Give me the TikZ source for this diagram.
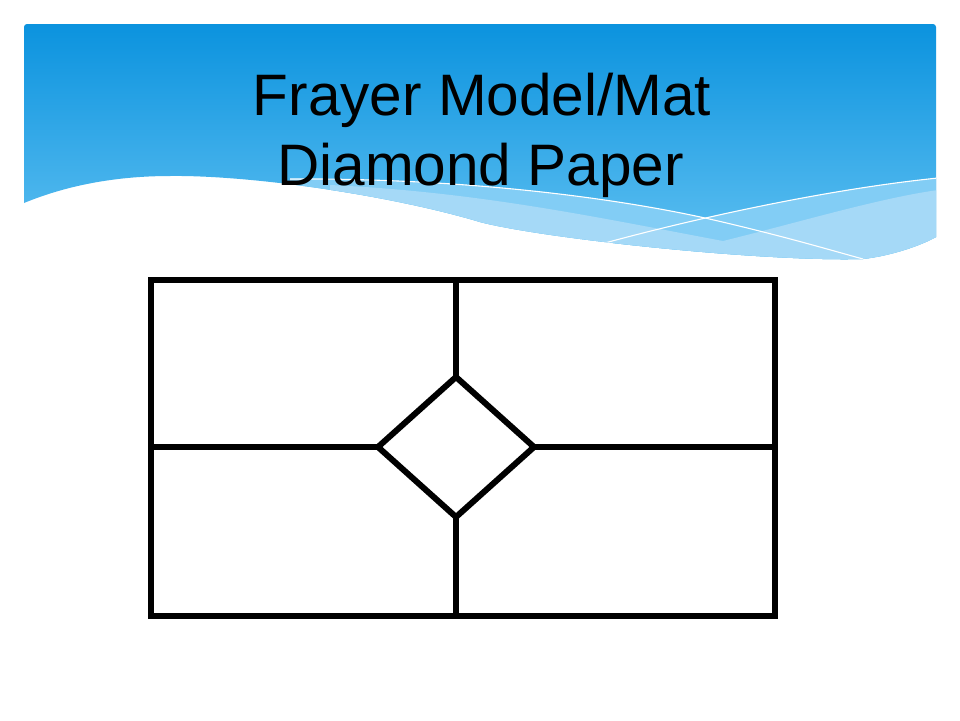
\documentclass[tikz,border=0pt]{standalone}
\usepackage{fontspec}
\setmainfont{Liberation Sans}
\usetikzlibrary{shapes.geometric}
\definecolor{bantop}{HTML}{0A92DE}
\definecolor{banbot}{HTML}{66C4F3}
\definecolor{bandmid}{HTML}{82CDF5}
\definecolor{bandlight}{HTML}{A5D9F7}
\tikzset{
  frameline/.style={draw=black, line width=6pt, line join=miter},
  titletext/.style={font=\fontsize{58.5}{70}\selectfont, text=black, anchor=base, inner sep=0pt},
  thinwhite/.style={draw=white, line width=1.1pt}
}
\begin{document}
\begin{tikzpicture}[x=1pt,y=-1pt]
\useasboundingbox (0,0) rectangle (960,720);
\fill[white] (0,0) rectangle (960,720);
% header banner, clipped to the area above the white wave
\begin{scope}
  \clip (24,203) -- (24,27) arc[start angle=180, end angle=270, radius=3] -- (933,24)
        arc[start angle=270, end angle=360, radius=3] -- (936,237)
        .. controls (920,246) and (890,256) .. (863,259)
        .. controls (760,262) and (540,238) .. (480,222)
        .. controls (390,195) and (250,175) .. (170,176)
        .. controls (120,176) and (70,184) .. (24,203) -- cycle;
  \shade[top color=bantop, bottom color=banbot] (20,20) rectangle (940,275);
  % medium band below line 1
  \fill[bandmid] (290,179) .. controls (450,178) and (600,195) .. (705,218)
        .. controls (780,235) and (830,250) .. (863,259) -- (863,300) -- (290,300) -- cycle;
  % medium band below line 2
  \fill[bandmid] (594,246) .. controls (680,222) and (820,190) .. (938,178) -- (940,300) -- (594,300) -- cycle;
  % light band
  \fill[bandlight] (330,185) .. controls (480,192) and (600,218) .. (723,241)
        .. controls (800,222) and (880,198) .. (938,190) -- (940,300) -- (330,300) -- cycle;
  % thin white lines
  \draw[thinwhite] (290,179) .. controls (450,178) and (600,195) .. (705,218)
        .. controls (780,235) and (830,250) .. (863,259);
  \draw[thinwhite] (594,246) .. controls (680,222) and (820,190) .. (938,178);
\end{scope}
% title
\node[titletext] (title1) at (482,115) {Frayer Model/Mat};
\node[titletext] (title2) at (480.5,185) {Diamond Paper};
% frayer frame
\node[frameline, rectangle, minimum width=624.5pt, minimum height=336pt, inner sep=0pt, outer sep=0pt] (frame) at (462.75,448) {};
\node[frameline, diamond, minimum width=156pt, minimum height=140pt, inner sep=0pt, outer sep=0pt] (diam) at (456,447) {};
\draw[frameline] (diam.north) -- (diam.north |- frame.north);
\draw[frameline] (diam.south) -- (diam.south |- frame.south);
\draw[frameline] (diam.west) -- (diam.west -| frame.west);
\draw[frameline] (diam.east) -- (diam.east -| frame.east);
\end{tikzpicture}
\end{document}
